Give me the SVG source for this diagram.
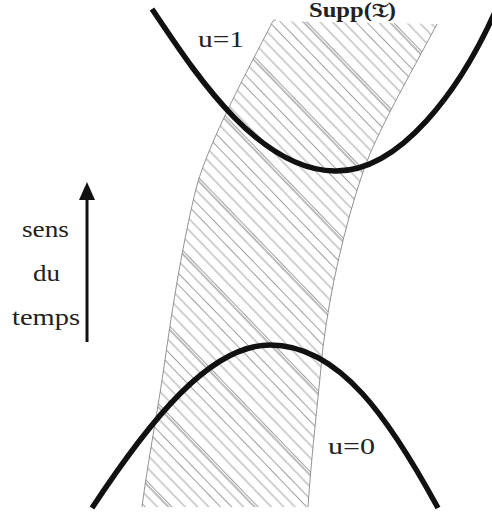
<svg xmlns="http://www.w3.org/2000/svg" width="492" height="516" viewBox="0 0 492 516">
<style>
.thick{fill:none;stroke:#111;stroke-width:5.5;stroke-linecap:butt}
.edge{fill:none;stroke:#777;stroke-width:0.8}
.hl{stroke:#777;stroke-width:0.7}
.hd{stroke:#555;stroke-width:0.8}
.lbl{font-family:"Liberation Serif","DejaVu Serif",serif;font-size:24px;fill:#222}
</style>
<defs>
<pattern id="hatch" patternUnits="userSpaceOnUse" width="62" height="300" patternTransform="rotate(-44)">
<line class="hl" x1="0.5" y1="0" x2="0.5" y2="300"/>
<line class="hl" x1="9" y1="0" x2="9" y2="300"/>
<line class="hd" x1="17" y1="0" x2="17" y2="300"/>
<line class="hl" x1="19.5" y1="0" x2="19.5" y2="300"/>
<line class="hl" x1="29" y1="0" x2="29" y2="300"/>
<line class="hl" x1="38" y1="0" x2="38" y2="300"/>
<line class="hl" x1="46" y1="0" x2="46" y2="300"/>
<line class="hl" x1="54.5" y1="0" x2="54.5" y2="300"/>
</pattern>
<clipPath id="bandclip">
<path d="M273,21 C245,75 210,140 197,185 C183,240 172,310 165,360 C158,410 148,460 142,507 L308,507 C311,460 318,400 323,347 C330,290 345,225 362,175 C375,135 410,75 437,24 Z"/>
</clipPath>
</defs>
<g id="band">
<rect x="130" y="15" width="320" height="500" fill="url(#hatch)" clip-path="url(#bandclip)"/>
<path class="edge" d="M276,20 Q273,20 273,21 C245,75 210,140 197,185 C183,240 172,310 165,360 C158,410 148,460 142,507"/>
<path class="edge" d="M437,24 C410,75 375,135 362,175 C345,225 330,290 323,347 C318,400 311,460 308,507"/>
</g>
<g id="curve-u1">
<path class="thick" d="M152,9 C190,65 255,170 335,171 C400,172 460,90 495,12"/>
</g>
<g id="curve-u0">
<path class="thick" d="M92,508 C150,420 210,345 270,345 C340,345 390,420 438,508"/>
</g>
<g id="arrow-time">
<line x1="87" y1="342" x2="87" y2="198" stroke="#111" stroke-width="3"/>
<path d="M87,182 L95,200 L79,200 Z" fill="#111"/>
</g>
<g id="labels">
<text class="lbl" x="198" y="47" textLength="46" lengthAdjust="spacingAndGlyphs">u=1</text>
<text class="lbl" x="328" y="454" textLength="47" lengthAdjust="spacingAndGlyphs">u=0</text>
<text class="lbl" x="22" y="237" textLength="47" lengthAdjust="spacingAndGlyphs">sens</text>
<text class="lbl" x="33" y="281" textLength="27" lengthAdjust="spacingAndGlyphs">du</text>
<text class="lbl" x="12" y="325" textLength="68" lengthAdjust="spacingAndGlyphs">temps</text>
<text x="309" y="17" font-family="Liberation Serif, DejaVu Serif, serif" font-size="20" font-weight="bold" fill="#222" textLength="87" lengthAdjust="spacingAndGlyphs">Supp(𝔗)</text>
</g>
</svg>
